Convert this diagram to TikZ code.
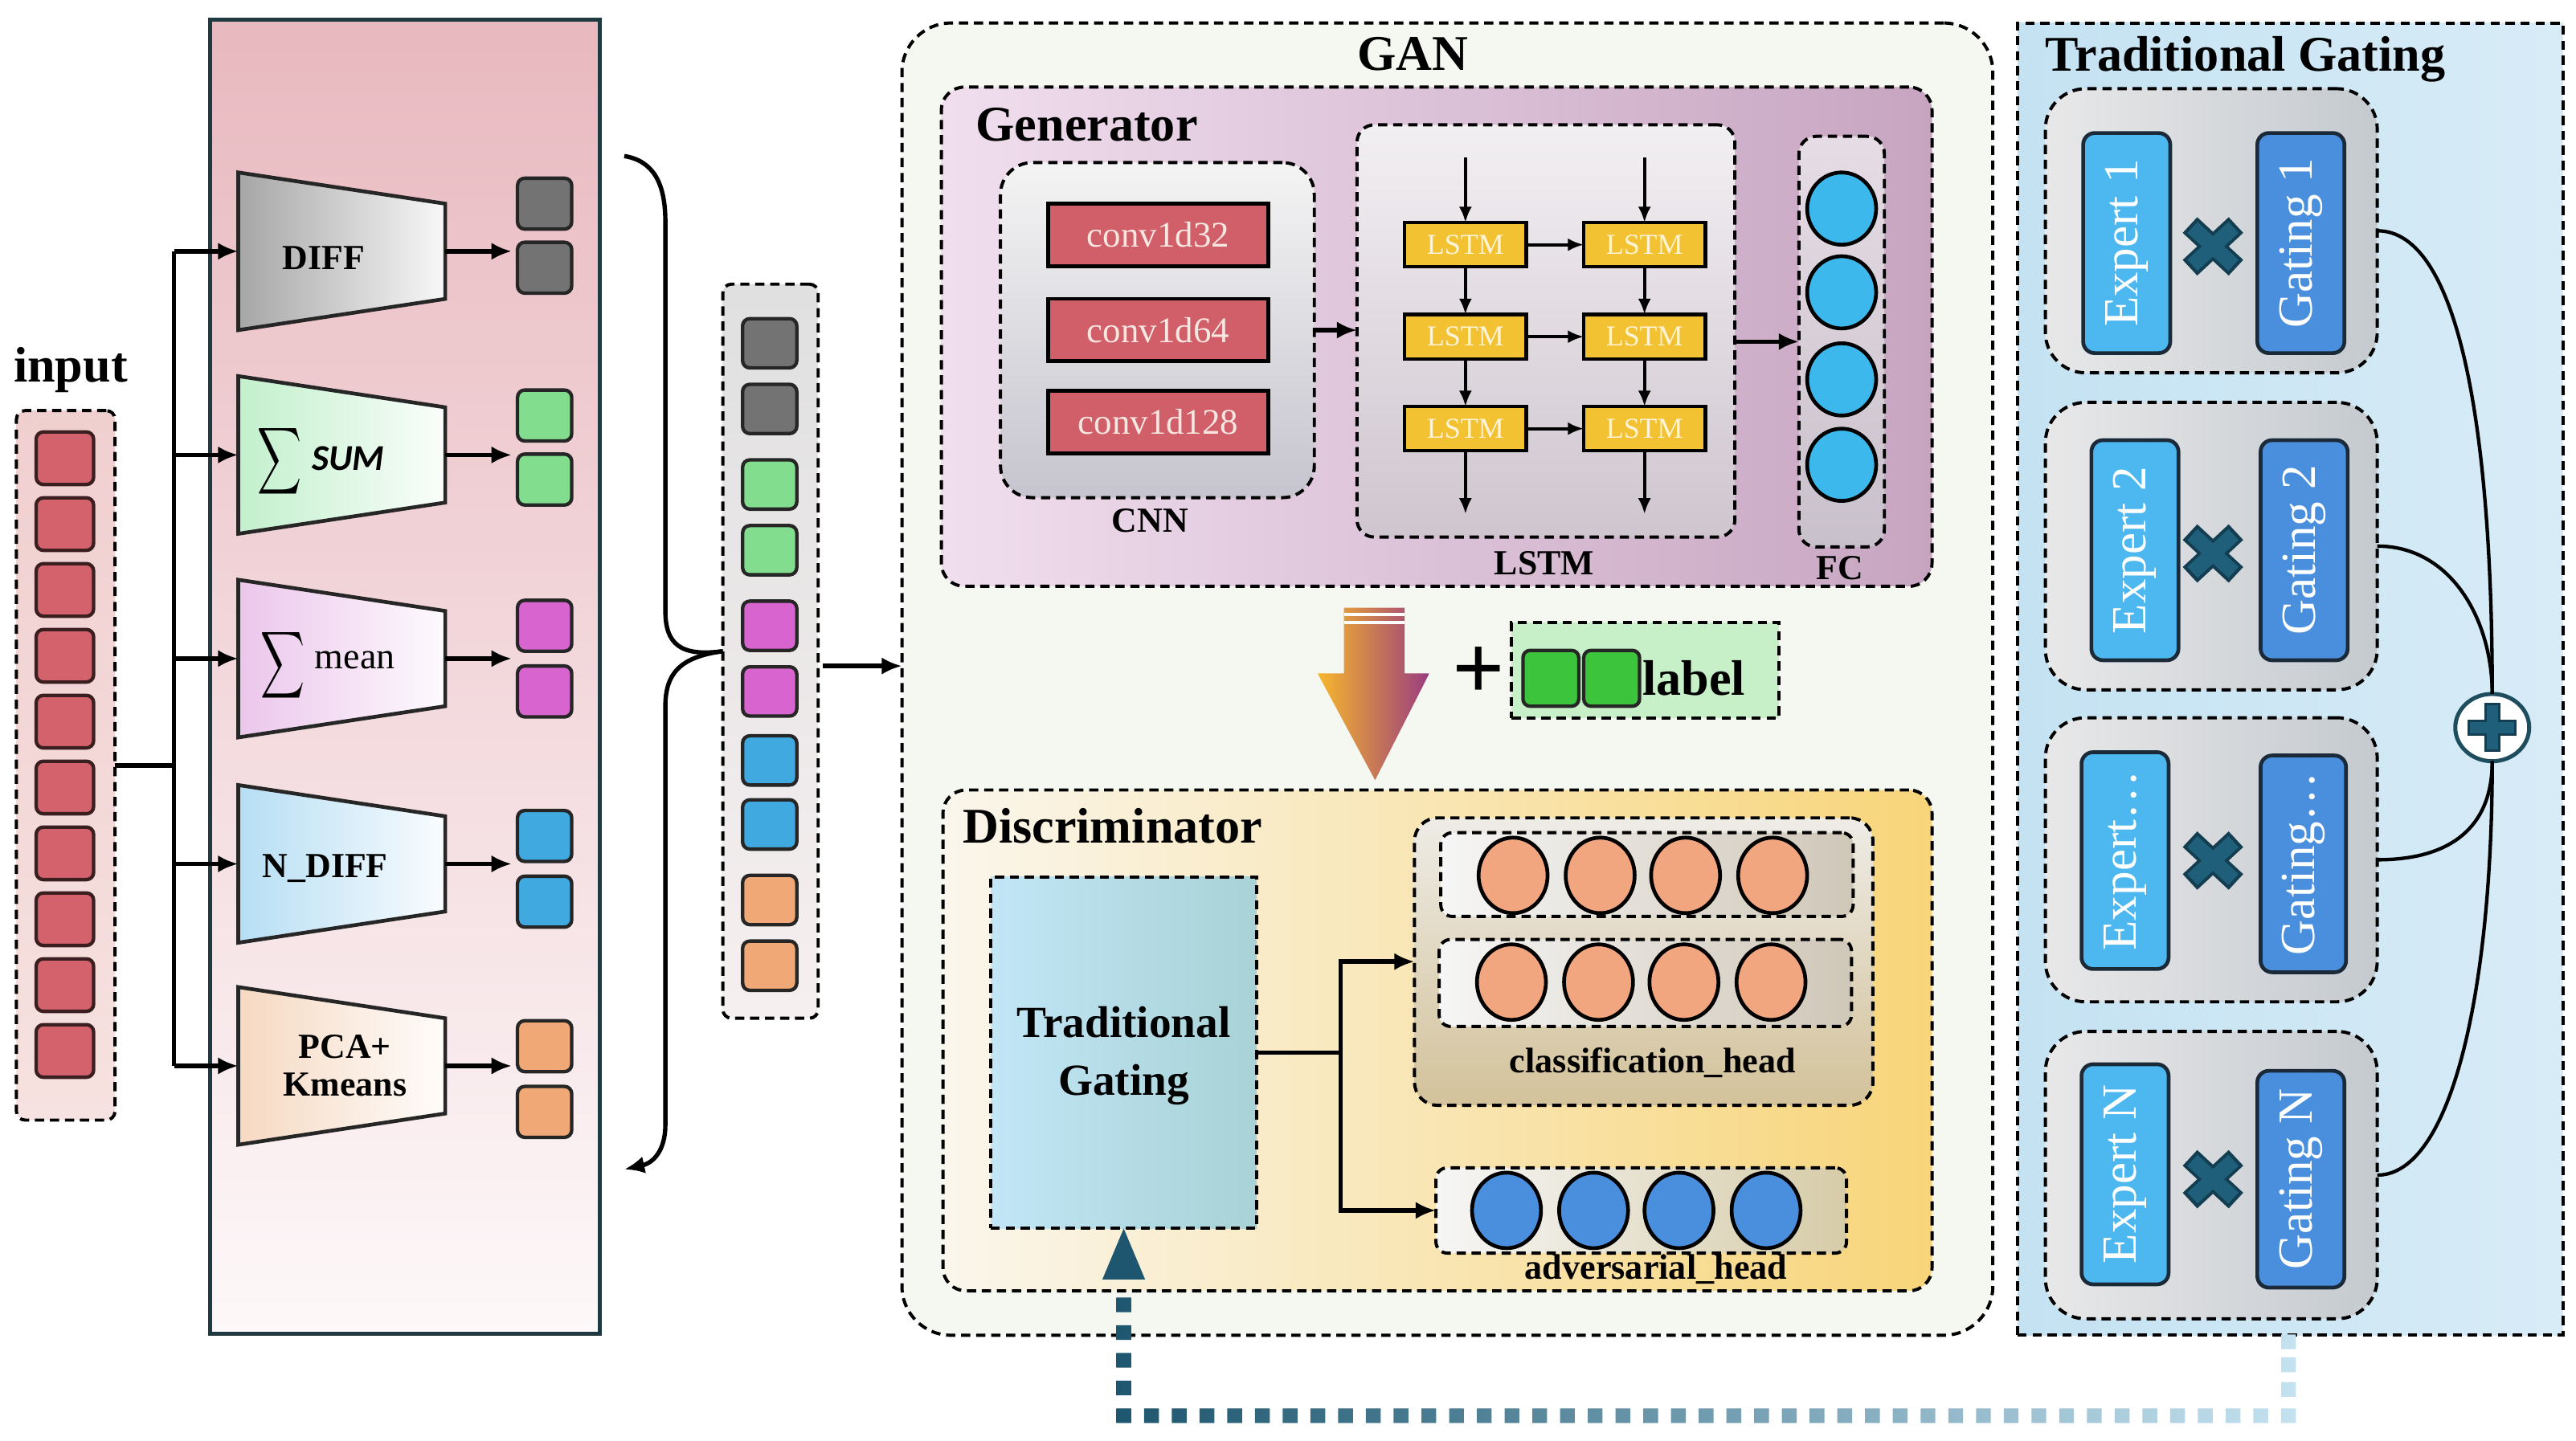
\documentclass[tikz,border=0pt]{standalone}
\usepackage{fontspec}
\setmainfont{Liberation Serif}
\newfontfamily\zzCarlito{Carlito}
\usepackage{graphicx}
\usetikzlibrary{arrows.meta,fit,shapes.geometric,calc}

\definecolor{cRed}{HTML}{D4626C}
\definecolor{cSqLine}{HTML}{3A1E20}
\definecolor{cInTop}{HTML}{F0CFCF}
\definecolor{cInBot}{HTML}{F6E2E0}
\definecolor{cPanelLine}{HTML}{1E3A40}
\definecolor{cPinkTop}{HTML}{E8B9BF}
\definecolor{cPinkBot}{HTML}{FDF8F9}
\definecolor{cTgray}{HTML}{A6A6A6}
\definecolor{cTgrayM}{HTML}{D9D9D9}
\definecolor{cTgreen}{HTML}{C2F0CC}
\definecolor{cTpurple}{HTML}{EBC6EC}
\definecolor{cTblue}{HTML}{B6DEF4}
\definecolor{cTpeach}{HTML}{F6D9C2}
\definecolor{cGray}{HTML}{737373}
\definecolor{cGreen}{HTML}{82DE8E}
\definecolor{cMag}{HTML}{D865CF}
\definecolor{cBlue}{HTML}{3FA9E0}
\definecolor{cOrange}{HTML}{F1A877}
\definecolor{cCatTop}{HTML}{E0E0E0}
\definecolor{cCatBot}{HTML}{F6EFF0}
\definecolor{cGan}{HTML}{F4F8F1}
\definecolor{cGenL}{HTML}{F0DEEE}
\definecolor{cGenR}{HTML}{C7A5C1}
\definecolor{cCnnTop}{HTML}{F4F4F4}
\definecolor{cCnnBot}{HTML}{C6C4CE}
\definecolor{cConv}{HTML}{D05F6A}
\definecolor{cConvTxt}{HTML}{F8E6E0}
\definecolor{cLbTop}{HTML}{F2EFF2}
\definecolor{cLbBot}{HTML}{CFC5CF}
\definecolor{cLstm}{HTML}{F2C233}
\definecolor{cLstmTxt}{HTML}{FFF4D8}
\definecolor{cFcTop}{HTML}{E6DCE6}
\definecolor{cFcBot}{HTML}{C8C0CA}
\definecolor{cFC}{HTML}{3DB8EC}
\definecolor{cArrL}{HTML}{F7B72C}
\definecolor{cArrM}{HTML}{E58A3E}
\definecolor{cArrR}{HTML}{9A3C80}
\definecolor{cLab}{HTML}{C8F0C8}
\definecolor{cLabSq}{HTML}{3CC43C}
\definecolor{cDiscL}{HTML}{FAF6EC}
\definecolor{cDiscR}{HTML}{F8D57A}
\definecolor{cTgL}{HTML}{C2E6F6}
\definecolor{cTgR}{HTML}{A8D2D6}
\definecolor{cClsTop}{HTML}{EEECE6}
\definecolor{cClsBot}{HTML}{D3C29A}
\definecolor{cRowL}{HTML}{F6F6F6}
\definecolor{cRowR}{HTML}{CFC7B8}
\definecolor{cSalmon}{HTML}{F2A67F}
\definecolor{cAdvR}{HTML}{D6CCA8}
\definecolor{cAdvC}{HTML}{4A8FDE}
\definecolor{cRpL}{HTML}{C4E2F2}
\definecolor{cRpR}{HTML}{D8ECF7}
\definecolor{cGrpL}{HTML}{E8E8E9}
\definecolor{cGrpM}{HTML}{EEEFEF}
\definecolor{cGrpR}{HTML}{C5CACF}
\definecolor{cExp}{HTML}{4DB7EF}
\definecolor{cGat}{HTML}{4A8FDD}
\definecolor{cEGline}{HTML}{1B2A38}
\definecolor{cX}{HTML}{1F5F7A}
\definecolor{cXdark}{HTML}{133D50}
\definecolor{cPlusLine}{HTML}{1E4D5E}
\definecolor{cFbDark}{HTML}{1D566E}
\definecolor{cFbLight}{HTML}{C4E2F0}

\newcommand\zzTitle{\fontsize{17.3pt}{20pt}\selectfont\bfseries}
\newcommand\zzMid{\fontsize{12.2pt}{14pt}\selectfont\bfseries}
\newcommand\zzMean{\fontsize{12.8pt}{14pt}\selectfont}
\newcommand\zzConv{\fontsize{12.5pt}{14pt}\selectfont}
\newcommand\zzSmall{\fontsize{10pt}{12pt}\selectfont}
\newcommand\zzTG{\fontsize{15.4pt}{18pt}\selectfont\bfseries}
\newcommand\zzHead{\fontsize{12.3pt}{14pt}\selectfont\bfseries}
\newcommand\zzExp{\fontsize{17pt}{20pt}\selectfont}
\newcommand\zzSigma{\scalebox{1.06}[1.62]{$\displaystyle\sum$}}

\begin{document}
\begin{tikzpicture}[x=0.02cm,y=-0.02cm,
  every node/.style={inner sep=0pt,outer sep=0pt},
  dbox/.style={draw=black,line width=1.1pt,dash pattern=on 3.2pt off 2pt},
  sq/.style={draw=black!85,line width=1.2pt,rounded corners=2.5pt,fill=#1,minimum width=0.66cm,minimum height=0.62cm},
  arr/.style={-{Latex[length=7pt,width=6pt]},line width=1.5pt},
  tarr/.style={-{Latex[length=5.5pt,width=4.5pt]},line width=1.1pt},
  conv/.style={draw=black,line width=1.3pt,fill=cConv,minimum width=2.68cm,minimum height=0.76cm,text=cConvTxt,font=\zzConv},
  lc/.style={draw=black,line width=1.2pt,fill=cLstm,minimum width=1.48cm,minimum height=0.54cm,text=cLstmTxt,font=\zzSmall},
  circ/.style={ellipse,draw=black,line width=1.3pt,fill=#1,minimum width=0.8cm,minimum height=0.88cm},
  egbox/.style={draw=cEGline,line width=1.3pt,rounded corners=4pt,fill=#1},
  egtxt/.style={rotate=90,text=white,font=\zzExp},
  ttl/.style={font=\zzTitle},
  mid/.style={font=\zzMid},
  hd/.style={font=\zzHead},
]
\useasboundingbox (0,0) rectangle (1568,877);
\fill[white] (0,0) rectangle (1568,877);

% ---------------- input ----------------
\node[ttl] (inlab) at (43,225) {input};
\node[dbox,rounded corners=3pt,top color=cInTop,bottom color=cInBot,fit={(10,250)(70,682)}] (inbox) {};
\foreach \i in {0,...,9}
  \node[sq=cRed,draw=cSqLine,minimum width=0.7cm,minimum height=0.64cm] (in\i) at (39.5,{279+40.1*\i}) {};

% ---------------- feature panel ----------------
\node[draw=cPanelLine,line width=1.3pt,top color=cPinkTop,bottom color=cPinkBot,fit={(128,12)(365,812)}] (panel) {};

\path[draw=black!85,line width=1.3pt,left color=cTgray,middle color=cTgrayM,right color=white!92!cTgray]
  (145,105) -- (271,124) -- (271,182) -- (145,201) -- cycle;
\node[fit={(145,105)(271,201)}] (t1) {};
\foreach \c/\n/\col in {277/2/cTgreen,401/3/cTpurple,526/4/cTblue,649/5/cTpeach}{
  \path[draw=black!85,line width=1.3pt,left color=\col,right color=white!92!\col]
    (145,\c-48) -- (271,\c-29) -- (271,\c+29) -- (145,\c+48) -- cycle;
  \node[fit={(145,\c-48)(271,\c+48)}] (t\n) {};
}
\node[mid] (tx1) at (197,157) {DIFF};
\node (sg2) at (170,281) {\zzSigma};
\node[font=\zzCarlito\fontsize{12.6pt}{14pt}\selectfont\bfseries\itshape] (tx2) at (212,279) {SUM};
\node (sg3) at (172,405) {\zzSigma};
\node[font=\zzMean] (tx3) at (216,402) {mean};
\node[mid] (tx4) at (198,529) {N\_DIFF};
\node[mid,align=center] (tx5) at (210,649) {PCA+\\[-1pt]Kmeans};

\coordinate (trunk) at (106,466);
\draw[line width=1.5pt] (inbox.east) -- (trunk);
\draw[line width=1.5pt] (trunk |- t1.west) -- (trunk |- t5.west);
\foreach \n in {1,...,5} \draw[arr] (trunk |- t\n.west) -- (t\n.west);

\foreach \a/\b/\n/\col in {124/163/1/cGray,253/292/2/cGreen,381/421/3/cMag,509/549/4/cBlue,637/677/5/cOrange}{
  \node[sq=\col] (oa\n) at (331.5,\a) {};
  \node[sq=\col] (ob\n) at (331.5,\b) {};
  \draw[arr,shorten >=2pt] (t\n.east) -- (t\n.east -| oa\n.west);
}

% ---------------- concatenated vector ----------------
\node[dbox,rounded corners=3pt,top color=cCatTop,bottom color=cCatBot,fit={(440,173)(498,620)}] (cat) {};
\foreach \y/\col/\n in {209/cGray/1,249/cGray/2,295/cGreen/3,335/cGreen/4,381/cMag/5,421/cMag/6,463/cBlue/7,502/cBlue/8,548/cOrange/9,588/cOrange/10}
  \node[sq=\col,minimum height=0.6cm] (cs\n) at (468.5,\y) {};

% brace
\draw[line width=1.5pt] (380,95) .. controls (398,98) and (405,112) .. (405,135) -- (405,372)
   .. controls (405,392) and (414,400) .. (cat.west);
\draw[line width=1.5pt,-{Latex[length=7pt,width=6pt]}] (cat.west) .. controls (414,400) and (405,410) .. (405,430)
   -- (405,685) .. controls (405,700) and (398,708) .. (380,712);

% ---------------- GAN ----------------
\node[dbox,rounded corners=17pt,fill=cGan,fit={(549,14)(1213,813)}] (gan) {};
\node[ttl] (ganlab) at (860,33) {GAN};
\coordinate (catout) at ($(cat.east)+(3,9)$);
\draw[arr] (catout) -- (catout -| gan.west);

% generator
\node[dbox,rounded corners=8pt,left color=cGenL,right color=cGenR,fit={(573,53)(1176,357)}] (gen) {};
\node[ttl,anchor=west] (genlab) at (594,76) {Generator};

\node[dbox,rounded corners=11pt,top color=cCnnTop,bottom color=cCnnBot,fit={(609,99)(800,303)}] (cnn) {};
\node[mid] (cnnlab) at (700,317) {CNN};
\node[conv] (c1) at (705,143) {conv1d32};
\node[conv] (c2) at (705,201) {conv1d64};
\node[conv] (c3) at (705,257) {conv1d128};

\node[dbox,rounded corners=6pt,top color=cLbTop,bottom color=cLbBot,fit={(826,76)(1056,327)}] (lbox) {};
\node[mid] (lboxlab) at (940,343) {LSTM};
\draw[arr] (cnn.east |- c2) -- (lbox.west |- c2);

\foreach \r/\y in {1/149,2/205,3/261}{
  \node[lc] (la\r) at (892,\y) {LSTM};
  \node[lc] (lb\r) at (1001,\y) {LSTM};
  \draw[tarr] (la\r) -- (lb\r);
}
\coordinate (lat) at (892,96);  \coordinate (lae) at (892,313);
\coordinate (lbt) at (1001,96); \coordinate (lbe) at (1001,313);
\draw[tarr] (lat) -- (la1); \draw[tarr] (la1) -- (la2); \draw[tarr] (la2) -- (la3); \draw[tarr] (la3) -- (lae);
\draw[tarr] (lbt) -- (lb1); \draw[tarr] (lb1) -- (lb2); \draw[tarr] (lb2) -- (lb3); \draw[tarr] (lb3) -- (lbe);

\node[dbox,rounded corners=6pt,top color=cFcTop,bottom color=cFcBot,fit={(1095,83)(1147,333)}] (fc) {};
\node[mid] (fclab) at (1120,346) {FC};
\foreach \y/\n in {127/1,178/2,231/3,283/4} \node[circ=cFC,minimum width=0.84cm] (f\n) at (1121,\y) {};
\draw[arr] (lbox.east |- fc.west) -- (fc.west);

% big arrow + label
\shade[left color=cArrL,middle color=cArrM,right color=cArrR]
  (818,370) -- (855,370) -- (855,410) -- (870,410) -- (837,475) -- (802,410) -- (818,410) -- cycle;
\draw[white,line width=1pt] (818,374) -- (855,374) (818,379) -- (855,379);
\coordinate (bigarr) at (837,475);
\node[font=\fontsize{32pt}{32pt}\selectfont\bfseries] (plusl) at (900,410) {+};
\node[dbox,fill=cLab,fit={(920,379)(1083,437)}] (lab) {};
\node[sq=cLabSq,minimum width=0.68cm,minimum height=0.68cm] (ls1) at (944,413) {};
\node[sq=cLabSq,minimum width=0.68cm,minimum height=0.68cm] (ls2) at (981,413) {};
\node[ttl] (labtxt) at (1031,413) {label};

% discriminator
\node[dbox,rounded corners=8pt,left color=cDiscL,right color=cDiscR,fit={(574,481)(1176,786)}] (disc) {};
\node[ttl,anchor=west] (disclab) at (586,503) {Discriminator};
\node[dbox,left color=cTgL,right color=cTgR,fit={(603,534)(765,748)}] (tg) {};
\node[font=\zzTG,align=center] (tgtxt) at (684,643) {Traditional\\[2pt]Gating};

\node[dbox,rounded corners=8pt,top color=cClsTop,bottom color=cClsBot,fit={(861,498)(1140,673)}] (cls) {};
\node[dbox,rounded corners=4pt,left color=cRowL,right color=cRowR,fit={(877,507)(1128,558)}] (cr1) {};
\node[dbox,rounded corners=4pt,left color=cRowL,right color=cRowR,fit={(876,572)(1127,625)}] (cr2) {};
\foreach \x/\n in {921/1,974/2,1026/3,1079/4}{
  \node[circ=cSalmon,minimum width=0.84cm,minimum height=0.92cm] (ca\n) at (\x,533) {};
  \node[circ=cSalmon,minimum width=0.84cm,minimum height=0.92cm] (cb\n) at (\x-1,598) {};
}
\node[hd] (clslab) at (1006,647) {classification\_head};

\node[dbox,rounded corners=4pt,left color=cRowL,right color=cAdvR,fit={(874,711)(1124,763)}] (adv) {};
\foreach \x/\n in {917/1,970/2,1022/3,1075/4}
  \node[circ=cAdvC,minimum width=0.84cm,minimum height=0.92cm] (ad\n) at (\x,737) {};
\node[hd] (advlab) at (1008,773) {adversarial\_head};

\coordinate (jn) at ($(tg.east)+(51,0)$);
\draw[line width=1.5pt] (tg.east) -- (jn);
\draw[arr] (jn) |- (cls.west);
\draw[arr] (jn) |- (adv.west);

% ---------------- right panel ----------------
\node[dbox,left color=cRpL,right color=cRpR,fit={(1228,14)(1560,813)}] (rp) {};
\node[ttl,anchor=west] (rplab) at (1245,36) {Traditional Gating};

\node[dbox,rounded corners=14pt,left color=cGrpL,middle color=cGrpM,right color=cGrpR,fit={(1245,54)(1447,227)}] (g1) {};
\node[dbox,rounded corners=14pt,left color=cGrpL,middle color=cGrpM,right color=cGrpR,fit={(1245,245)(1447,420)}] (g2) {};
\node[dbox,rounded corners=14pt,left color=cGrpL,middle color=cGrpM,right color=cGrpR,fit={(1245,437)(1447,610)}] (g3) {};
\node[dbox,rounded corners=14pt,left color=cGrpL,middle color=cGrpM,right color=cGrpR,fit={(1245,628)(1447,803)}] (g4) {};

\node[egbox=cExp,fit={(1268,81)(1321,215)}] (e1) {};  \node[egtxt] at (e1) {Expert 1};
\node[egbox=cGat,fit={(1374,81)(1427,215)}] (ga1) {}; \node[egtxt] at (ga1) {Gating 1};
\node[egbox=cExp,fit={(1273,268)(1326,402)}] (e2) {};  \node[egtxt] at (e2) {Expert 2};
\node[egbox=cGat,fit={(1376,268)(1429,402)}] (ga2) {}; \node[egtxt] at (ga2) {Gating 2};
\node[egbox=cExp,fit={(1267,458)(1320,590)}] (e3) {};  \node[egtxt] at (e3) {Expert\ldots};
\node[egbox=cGat,fit={(1376,460)(1428,592)}] (ga3) {}; \node[egtxt] at (ga3) {Gating\ldots};
\node[egbox=cExp,fit={(1267,648)(1320,782)}] (e4) {};  \node[egtxt] at (e4) {Expert N};
\node[egbox=cGat,fit={(1374,652)(1427,784)}] (ga4) {}; \node[egtxt] at (ga4) {Gating N};

\foreach \k/\y in {1/150,2/337,3/524,4/718}{
  \node (x\k) at (1347,\y) {};
  \draw[cXdark,line width=7.4pt] (1333,\y-13) -- (1361,\y+13) (1361,\y-13) -- (1333,\y+13);
  \draw[cX,line width=5.2pt] (1334.5,\y-11.5) -- (1359.5,\y+11.5) (1359.5,\y-11.5) -- (1334.5,\y+11.5);
}

\node[ellipse,draw=cPlusLine,line width=1.4pt,fill=white,minimum width=0.9cm,minimum height=0.82cm] (sum) at (1517,443) {};
\fill[cXdark] (1502,438) rectangle (1532,448);
\fill[cXdark] (1512,428) rectangle (1522,458);
\fill[cX] (1503.5,439.5) rectangle (1530.5,446.5);
\fill[cX] (1513.5,429.5) rectangle (1520.5,456.5);

\draw[line width=1.2pt] (g1.east) .. controls +(50,0) and +(0,-160) .. (sum.north);
\draw[line width=1.2pt] (g2.east) .. controls +(45,0) and +(0,-45) .. (sum.north);
\draw[line width=1.2pt] (g3.east) .. controls +(45,0) and +(0,40) .. (sum.south);
\draw[line width=1.2pt] (g4.east) .. controls +(45,0) and +(0,140) .. (sum.south);

% ---------------- feedback (dotted, shaded) ----------------
\coordinate (fbA) at (rp.south -| 1393,0);
\path[left color=cFbDark,right color=cFbLight]
  \foreach \k in {0,...,42} { ({684+16.88*\k-4.5},857.5) rectangle ++(9,9) }
  \foreach \k in {1,...,4} { (679.5,{862-16.88*\k-4.5}) rectangle ++(9,9) }
  \foreach \yy in {846,831,817} { (1388.5,\yy-4.5) rectangle ++(9,9) };
\fill[cFbDark] (tg.south) -- ++(13,31) -- ++(-26,0) -- cycle;

\end{tikzpicture}
\end{document}
